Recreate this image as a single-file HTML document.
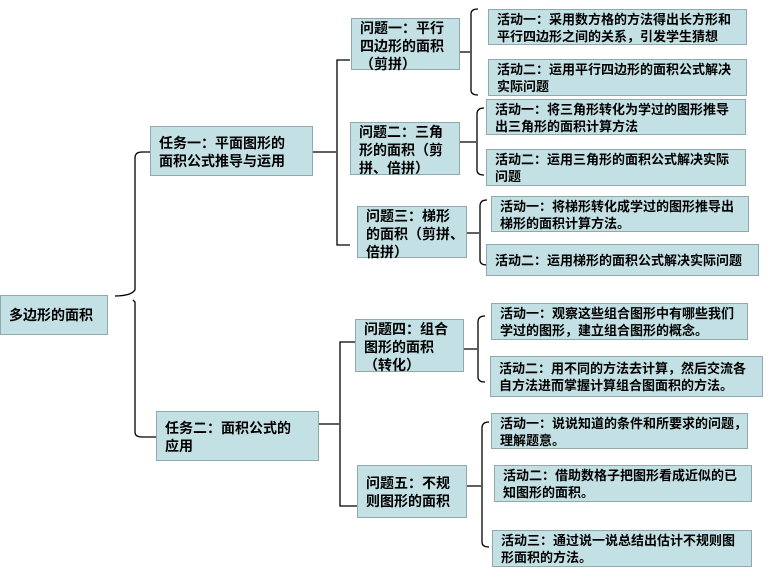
<!DOCTYPE html>
<html><head><meta charset="utf-8"><style>
body{margin:0;width:780px;height:588px;background:#fff;position:relative;overflow:hidden;font-family:"Liberation Sans","Noto Sans CJK SC",sans-serif;}
.b{position:absolute;background:#c3e1e4;border:1px solid #8fa9ad;box-sizing:border-box;font-weight:bold;font-size:13px;line-height:17px;color:#000;padding:1px 0 0 8px;}
.m{font-size:14px;line-height:18px;}
svg{position:absolute;left:0;top:0}
</style></head><body>
<svg width="780" height="588" fill="none" stroke="#000" stroke-width="1.3">
<path d="M115 296 Q128 296 133 292 L135 290 L135 158 Q135 152 142 152 L150 152"/>
<path d="M133 300 L135 302 L135 432 Q135 437 142 437 L156 437"/>
<path d="M313 152 L336 152 M350 60 L337 60 L337 245 L350 245"/>
<path d="M319 424 L339 424 M355 342 L340 342 L340 506 L357 506"/>
<path d="M460 52 L470 52 M478 9 Q471 9 471 14 L471 90 Q471 95 478 95"/>
<path d="M460 142 L476 142 M484 108 Q477 108 477 114 L477 170 Q477 175 484 175"/>
<path d="M467 233 L479 233 M487 200 Q480 200 480 206 L480 260 Q480 265 487 265"/>
<path d="M464 349 L477 349 M485 316 Q478 316 478 322 L478 377 Q478 382 485 382"/>
<path d="M467 486 L481 486 M489 422 Q482 422 482 428 L482 542 Q482 547 489 547"/>
</svg>
<div class="b m" style="left:0;top:295px;width:108px;height:40px;padding-top:10px">多边形的面积</div>
<div class="b m" style="left:150px;top:126px;width:163px;height:50px;padding-top:7px">任务一：平面图形的<br>面积公式推导与运用</div>
<div class="b m" style="left:156px;top:411px;width:163px;height:50px;padding-top:7px">任务二：面积公式的<br>应用</div>
<div class="b m" style="left:351px;top:18px;width:109px;height:52px;padding-top:0">问题一：平行<br>四边形的面积<br>（剪拼）</div>
<div class="b m" style="left:350px;top:122px;width:110px;height:53px;padding-top:0">问题二：三角<br>形的面积（剪<br>拼、倍拼）</div>
<div class="b m" style="left:357px;top:206px;width:110px;height:52px;padding-top:0">问题三：梯形<br>的面积（剪拼、<br>倍拼）</div>
<div class="b m" style="left:355px;top:319px;width:109px;height:53px;padding-top:0">问题四：组合<br>图形的面积<br>（转化）</div>
<div class="b m" style="left:357px;top:465px;width:110px;height:53px;padding-top:8px">问题五：不规<br>则图形的面积</div>
<div class="b" style="left:488px;top:9px;width:259px;height:36px">活动一：采用数方格的方法得出长方形和<br>平行四边形之间的关系，引发学生猜想</div>
<div class="b" style="left:488px;top:59px;width:259px;height:37px">活动二：运用平行四边形的面积公式解决<br>实际问题</div>
<div class="b" style="left:486px;top:99px;width:260px;height:36px">活动一：将三角形转化为学过的图形推导<br>出三角形的面积计算方法</div>
<div class="b" style="left:486px;top:149px;width:260px;height:37px">活动二：运用三角形的面积公式解决实际<br>问题</div>
<div class="b" style="left:491px;top:196px;width:258px;height:36px">活动一：将梯形转化成学过的图形推导出<br>梯形的面积计算方法。</div>
<div class="b" style="left:486px;top:244px;width:273px;height:32px;padding-top:7px">活动二：运用梯形的面积公式解决实际问题</div>
<div class="b" style="left:491px;top:303px;width:257px;height:37px">活动一：观察这些组合图形中有哪些我们<br>学过的图形，建立组合图形的概念。</div>
<div class="b" style="left:490px;top:356px;width:273px;height:41px;padding-top:3px">活动二：用不同的方法去计算，然后交流各<br>自方法进而掌握计算组合图面积的方法。</div>
<div class="b" style="left:491px;top:413px;width:257px;height:36px">活动一：说说知道的条件和所要求的问题，<br>理解题意。</div>
<div class="b" style="left:494px;top:465px;width:258px;height:37px">活动二：借助数格子把图形看成近似的已<br>知图形的面积。</div>
<div class="b" style="left:492px;top:530px;width:260px;height:37px">活动三：通过说一说总结出估计不规则图<br>形面积的方法。</div>
</body></html>
